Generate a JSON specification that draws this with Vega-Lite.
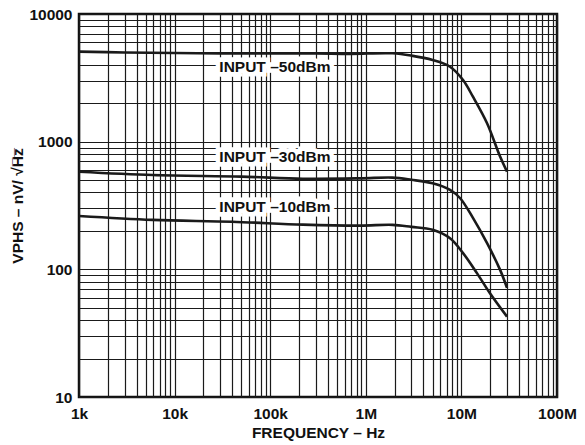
{
  "$schema": "https://vega.github.io/schema/vega-lite/v6.json",
  "width": 478,
  "height": 383,
  "autosize": {"type": "none"},
  "padding": {"left": 79, "top": 14, "right": 28, "bottom": 48},
  "background": "white",
  "config": {
    "view": {"stroke": "#111", "strokeWidth": 2.5},
    "font": "Liberation Sans",
    "axis": {
      "domain": false,
      "ticks": false,
      "grid": true,
      "gridColor": "#1a1a1a",
      "gridWidth": 1.2,
      "gridOpacity": 1,
      "labelFont": "Liberation Sans",
      "labelFontWeight": "bold",
      "labelFontSize": 15.5,
      "labelColor": "#111",
      "titleFont": "Liberation Sans",
      "titleFontWeight": "bold",
      "titleFontSize": 15.5,
      "titleColor": "#111",
      "labelOverlap": false,
      "labelBound": false,
      "labelFlush": false
    }
  },
  "datasets": {
    "curves": [
      {"series": "-50dBm", "freq": 1000, "vphs": 5070},
      {"series": "-50dBm", "freq": 3000, "vphs": 5000},
      {"series": "-50dBm", "freq": 10000, "vphs": 4950},
      {"series": "-50dBm", "freq": 30000, "vphs": 4920},
      {"series": "-50dBm", "freq": 100000, "vphs": 4900},
      {"series": "-50dBm", "freq": 300000, "vphs": 4900},
      {"series": "-50dBm", "freq": 700000, "vphs": 4870},
      {"series": "-50dBm", "freq": 1900000, "vphs": 4920},
      {"series": "-50dBm", "freq": 3000000, "vphs": 4720},
      {"series": "-50dBm", "freq": 5000000, "vphs": 4360},
      {"series": "-50dBm", "freq": 7600000, "vphs": 3860},
      {"series": "-50dBm", "freq": 10400000, "vphs": 3040},
      {"series": "-50dBm", "freq": 13200000, "vphs": 2250},
      {"series": "-50dBm", "freq": 18500000, "vphs": 1400},
      {"series": "-50dBm", "freq": 25400000, "vphs": 764},
      {"series": "-50dBm", "freq": 30000000, "vphs": 582},
      {"series": "-30dBm", "freq": 1000, "vphs": 582},
      {"series": "-30dBm", "freq": 5900, "vphs": 548},
      {"series": "-30dBm", "freq": 50000, "vphs": 532},
      {"series": "-30dBm", "freq": 220000, "vphs": 513},
      {"series": "-30dBm", "freq": 870000, "vphs": 516},
      {"series": "-30dBm", "freq": 1900000, "vphs": 523},
      {"series": "-30dBm", "freq": 3000000, "vphs": 503},
      {"series": "-30dBm", "freq": 5000000, "vphs": 472},
      {"series": "-30dBm", "freq": 7600000, "vphs": 419},
      {"series": "-30dBm", "freq": 9660000, "vphs": 362},
      {"series": "-30dBm", "freq": 13200000, "vphs": 253},
      {"series": "-30dBm", "freq": 18500000, "vphs": 161},
      {"series": "-30dBm", "freq": 25400000, "vphs": 99},
      {"series": "-30dBm", "freq": 30000000, "vphs": 71.5},
      {"series": "-10dBm", "freq": 1000, "vphs": 262},
      {"series": "-10dBm", "freq": 5900, "vphs": 244},
      {"series": "-10dBm", "freq": 40000, "vphs": 236},
      {"series": "-10dBm", "freq": 220000, "vphs": 224},
      {"series": "-10dBm", "freq": 870000, "vphs": 220},
      {"series": "-10dBm", "freq": 1900000, "vphs": 223},
      {"series": "-10dBm", "freq": 3000000, "vphs": 215},
      {"series": "-10dBm", "freq": 5000000, "vphs": 204},
      {"series": "-10dBm", "freq": 7600000, "vphs": 175},
      {"series": "-10dBm", "freq": 10400000, "vphs": 134},
      {"series": "-10dBm", "freq": 14600000, "vphs": 93},
      {"series": "-10dBm", "freq": 19900000, "vphs": 65},
      {"series": "-10dBm", "freq": 30000000, "vphs": 42.6}
    ],
    "labels": [
      {"label": "INPUT –50dBm", "freq": 112000, "vphs": 3860},
      {"label": "INPUT –30dBm", "freq": 112000, "vphs": 764},
      {"label": "INPUT –10dBm", "freq": 112000, "vphs": 310}
    ]
  },
  "encoding": {
    "x": {
      "field": "freq", "type": "quantitative",
      "scale": {"type": "log", "domain": [1000, 100000000], "nice": false},
      "axis": {
        "title": "FREQUENCY – Hz",
        "values": [1000,2000,3000,4000,5000,6000,7000,8000,9000,10000,20000,30000,40000,50000,60000,70000,80000,90000,100000,200000,300000,400000,500000,600000,700000,800000,900000,1000000,2000000,3000000,4000000,5000000,6000000,7000000,8000000,9000000,10000000,20000000,30000000,40000000,50000000,60000000,70000000,80000000,90000000,100000000],
        "labelExpr": "datum.value==1000?'1k':datum.value==10000?'10k':datum.value==100000?'100k':datum.value==1000000?'1M':datum.value==10000000?'10M':datum.value==100000000?'100M':''",
        "labelPadding": 9,
        "titlePadding": 4
      }
    },
    "y": {
      "field": "vphs", "type": "quantitative",
      "scale": {"type": "log", "domain": [10, 10000], "nice": false},
      "axis": {
        "title": "VPHS – nV/ √H̅z̅",
        "values": [10,20,30,40,50,60,70,80,90,100,200,300,400,500,600,700,800,900,1000,2000,3000,4000,5000,6000,7000,8000,9000,10000],
        "labelExpr": "(datum.value==10||datum.value==100||datum.value==1000||datum.value==10000)?format(datum.value,'d'):''",
        "labelPadding": 7,
        "titlePadding": 3
      }
    }
  },
  "layer": [
    {
      "data": {"name": "labels"},
      "mark": {"type": "text", "font": "Liberation Sans", "fontWeight": "bold", "fontSize": 15.5, "stroke": "white", "strokeWidth": 9, "strokeJoin": "miter", "fill": "white", "align": "center", "baseline": "middle"},
      "encoding": {"text": {"field": "label"}}
    },
    {
      "data": {"name": "labels"},
      "mark": {"type": "text", "font": "Liberation Sans", "fontWeight": "bold", "fontSize": 15.5, "fill": "#111", "align": "center", "baseline": "middle"},
      "encoding": {"text": {"field": "label"}}
    },
    {
      "data": {"name": "curves"},
      "mark": {"type": "line", "color": "#1a1a1a", "strokeWidth": 2.6, "interpolate": "catmull-rom"},
      "encoding": {"detail": {"field": "series"}}
    }
  ]
}
